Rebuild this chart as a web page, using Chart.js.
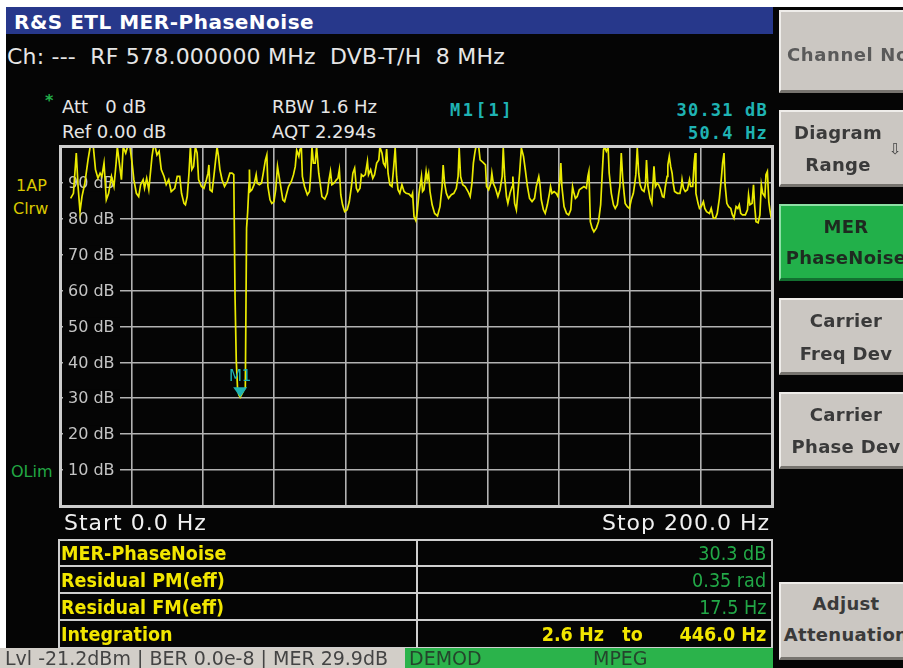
<!DOCTYPE html>
<html>
<head>
<meta charset="utf-8">
<script src="https://cdn.jsdelivr.net/npm/chart.js@4.4.0/dist/chart.umd.min.js"></script>
<style>
body { margin: 0; width: 903px; height: 668px; overflow: hidden; background: #fff; position: relative; font-family: "DejaVu Sans", sans-serif; }
#screen { position: absolute; left: 6px; top: 7px; width: 897px; height: 661px; background: #050505; }
#titlebar { position: absolute; left: 6px; top: 7px; width: 767px; height: 27px; background: #27388b; }
.t { position: absolute; white-space: pre; line-height: 1; }
.btn { position: absolute; left: 779px; width: 134px; box-sizing: border-box; background: #cbc7c2;
       border-top: 2px solid #efedea; border-left: 2px solid #efedea; border-bottom: 3px solid #77746f; border-right: 3px solid #77746f; }
.bt { position: absolute; left: 779px; width: 134px; text-align: center; font-weight: bold; font-size: 18px; letter-spacing: 0.3px; color: #3a3a3a; line-height: 1; white-space: pre; }
.lbl { font-weight: bold; font-size: 20px; color: #f2e600; transform: scaleX(0.88); transform-origin: left center; }
.val { font-size: 20px; color: #22a847; transform: scaleX(0.88); transform-origin: right center; }
.hl { position: absolute; height: 2px; background: #cfcfcf; }
#chartBox { position: absolute; left: 55px; top: 140px; width: 725px; height: 372px; }
</style>
</head>
<body>
<div id="screen"></div>
<div id="titlebar"></div>
<div class="t" style="left:14px;top:12px;font-size:20px;font-weight:bold;letter-spacing:0.5px;color:#fff;">R&amp;S ETL MER-PhaseNoise</div>
<div class="t" style="left:7px;top:46px;font-size:22px;letter-spacing:0.2px;color:#e6e6e6;">Ch: ---  RF 578.000000 MHz  DVB-T/H  8 MHz</div>

<div class="t" style="left:45px;top:93px;font-size:16px;font-weight:bold;color:#22b04a;">*</div>
<div class="t" style="left:62px;top:98px;font-size:18px;color:#e6e6e6;">Att   0 dB</div>
<div class="t" style="left:62px;top:123px;font-size:18px;color:#e6e6e6;">Ref 0.00 dB</div>
<div class="t" style="left:272px;top:98px;font-size:18px;color:#e6e6e6;">RBW 1.6 Hz</div>
<div class="t" style="left:272px;top:123px;font-size:18px;color:#e6e6e6;">AQT 2.294s</div>
<div class="t" style="left:450px;top:102px;font-size:17px;font-weight:bold;font-family:'DejaVu Sans Mono',monospace;letter-spacing:2.6px;color:#1fb3b3;">M1[1]</div>
<div class="t" style="right:135px;top:102px;font-size:17px;font-weight:bold;font-family:'DejaVu Sans Mono',monospace;letter-spacing:1.2px;color:#1fb3b3;">30.31 dB</div>
<div class="t" style="right:135px;top:125px;font-size:17px;font-weight:bold;font-family:'DejaVu Sans Mono',monospace;letter-spacing:1.2px;color:#1fb3b3;">50.4 Hz</div>

<div class="t" style="left:16px;top:178px;font-size:16px;color:#d9c800;">1AP</div>
<div class="t" style="left:13px;top:201px;font-size:16px;color:#d9c800;">Clrw</div>
<div class="t" style="left:11px;top:464px;font-size:16px;color:#22a844;">OLim</div>

<div id="chartBox"><canvas id="phaseChart" width="725" height="372"></canvas></div>

<div class="t" style="left:64px;top:512px;font-size:22px;letter-spacing:1px;color:#f0f0f0;">Start 0.0 Hz</div>
<div class="t" style="right:133px;top:512px;font-size:22px;letter-spacing:1px;color:#f0f0f0;">Stop 200.0 Hz</div>

<div style="position:absolute;left:58px;top:539px;width:715px;height:110px;box-sizing:border-box;border:2px solid #cfcfcf;"></div>
<div class="hl" style="left:58px;top:565px;width:715px;"></div>
<div class="hl" style="left:58px;top:592px;width:715px;"></div>
<div class="hl" style="left:58px;top:619px;width:715px;"></div>
<div style="position:absolute;left:416px;top:539px;width:2px;height:110px;background:#cfcfcf;"></div>

<div class="t lbl" style="left:61px;top:543px;">MER-PhaseNoise</div>
<div class="t lbl" style="left:61px;top:570px;">Residual PM(eff)</div>
<div class="t lbl" style="left:61px;top:597px;">Residual FM(eff)</div>
<div class="t lbl" style="left:61px;top:624px;">Integration</div>
<div class="t val" style="right:137px;top:543px;">30.3 dB</div>
<div class="t val" style="right:137px;top:570px;">0.35 rad</div>
<div class="t val" style="right:137px;top:597px;">17.5 Hz</div>
<div class="t val" style="right:137px;top:624px;color:#f2e600;font-weight:bold;">2.6 Hz   to      446.0 Hz</div>

<div style="position:absolute;left:0;top:648px;width:405px;height:20px;background:#d2cec8;"></div>
<div style="position:absolute;left:405px;top:648px;width:368px;height:20px;background:#2bb34b;"></div>
<div class="t" style="left:5px;top:649px;font-size:19px;color:#444;">Lvl -21.2dBm | BER 0.0e-8 | MER 29.9dB</div>
<div class="t" style="left:409px;top:649px;font-size:19px;color:#24452c;">DEMOD</div>
<div class="t" style="left:593px;top:649px;font-size:19px;color:#24452c;">MPEG</div>

<div class="btn" style="top:10px;height:83px;"></div>
<div class="t" style="left:787px;top:46px;font-size:18px;font-weight:bold;letter-spacing:0.6px;color:#5a5a5a;">Channel No</div>
<div class="btn" style="top:110px;height:77px;"></div>
<div class="bt" style="top:124px;margin-left:-8px;">Diagram</div>
<div class="bt" style="top:156px;margin-left:-8px;">Range</div>
<div class="t" style="left:889px;top:142px;font-size:15px;color:#444;">⇩</div>
<div class="btn" style="top:204px;height:77px;background:#22b04a;border-top-color:#8fe0a6;border-left-color:#8fe0a6;border-bottom-color:#127030;border-right-color:#127030;"></div>
<div class="bt" style="top:218px;color:#1e2a20;">MER</div>
<div class="bt" style="top:249px;color:#1e2a20;">PhaseNoise</div>
<div class="btn" style="top:298px;height:77px;"></div>
<div class="bt" style="top:312px;">Carrier</div>
<div class="bt" style="top:345px;">Freq Dev</div>
<div class="btn" style="top:392px;height:77px;"></div>
<div class="bt" style="top:406px;">Carrier</div>
<div class="bt" style="top:438px;">Phase Dev</div>
<div class="btn" style="top:582px;height:78px;"></div>
<div class="bt" style="top:595px;">Adjust</div>
<div class="bt" style="top:626px;">Attenuation</div>

<script>
// trace (Hz, dB); values at 100 are clipped at the top of the screen
const freqHz = [
  2.7, 3.5, 4.3, 4.8, 5.35, 5.9, 6.7, 7.6, 8.2, 9.1, 9.7, 10.4, 11.0, 11.5, 12.1, 12.75, 13.4, 14.2, 14.9, 15.5,
  15.85, 16.3, 17.0, 17.5, 18.2, 18.7, 19.4, 20.0, 20.5, 21.2, 21.85, 22.4, 23.1, 23.5, 24.1, 24.7, 25.6, 26.0, 26.5, 27.0,
  27.6, 28.2, 29.0, 29.6, 30.3, 31.0, 32.0, 32.7, 33.4, 33.9, 34.6, 35.0, 35.5, 36.0, 36.4, 36.8, 37.3, 37.8, 38.3, 38.7,
  39.5, 40.2, 40.9, 41.35, 41.6, 41.9, 42.5, 43.0, 43.5, 43.9, 44.3, 44.7, 45.3, 46.0, 46.8, 47.5, 48.1, 48.6, 48.95, 49.3,
  49.65, 50.0, 50.4, 50.8, 51.3, 51.85, 52.2, 52.5, 52.9, 53.0, 53.2, 53.7, 54.3, 54.9, 55.2, 55.8, 56.4, 56.9, 57.5, 57.9,
  58.2, 58.8, 59.3, 59.9, 60.4, 60.9, 61.2, 61.8, 62.4, 62.9, 63.5, 64.0, 64.8, 65.4, 65.9, 66.3, 66.9, 67.2, 67.6, 67.9,
  68.5, 69.3, 69.9, 70.2, 70.6, 71.0, 71.5, 71.9, 72.5, 72.9, 73.4, 74.2, 74.9, 75.4, 75.8, 76.2, 76.8, 77.5, 77.9, 78.3,
  78.7, 79.2, 79.8, 80.5, 81.1, 81.7, 82.1, 82.6, 83.1, 83.5, 84.1, 84.5, 85.0, 85.6, 86.2, 86.5, 87.1, 87.7, 88.2, 88.8,
  89.4, 89.7, 90.3, 90.7, 91.2, 91.6, 92.0, 92.5, 93.1, 93.6, 94.0, 94.4, 94.8, 95.3, 95.9, 96.5, 97.1, 97.9, 98.6, 98.9,
  99.3, 99.8, 100.2, 100.7, 101.4, 101.7, 102.1, 102.7, 103.0, 103.4, 103.8, 104.4, 105.1, 105.9, 106.6, 107.2, 107.5, 107.9, 108.4, 109.0,
  109.8, 110.5, 111.2, 111.7, 112.0, 112.4, 113.0, 113.7, 114.5, 115.1, 115.6, 116.0, 116.4, 116.7, 117.5, 117.9, 118.7, 119.4, 119.7, 120.3,
  120.9, 121.2, 121.6, 122.2, 122.9, 123.5, 124.1, 124.4, 124.8, 125.3, 125.7, 126.3, 126.9, 127.1, 127.6, 128.1, 128.5, 129.0, 129.5, 130.1,
  130.6, 131.2, 131.8, 132.5, 133.2, 133.7, 134.4, 134.7, 135.1, 135.7, 136.2, 136.8, 137.4, 137.7, 138.1, 138.7, 139.3, 139.8, 140.3, 140.6,
  140.9, 141.5, 142.2, 142.8, 143.4, 143.9, 144.3, 144.7, 145.2, 145.8, 146.4, 147.1, 147.8, 148.2, 148.5, 148.9, 149.4, 149.9, 150.6, 151.2,
  151.8, 152.2, 152.6, 152.9, 153.4, 153.9, 154.2, 154.8, 155.4, 155.9, 156.5, 156.9, 157.2, 157.6, 158.0, 158.4, 158.7, 159.3, 159.9, 160.4,
  161.0, 161.4, 161.7, 162.1, 162.5, 162.9, 163.4, 164.0, 164.4, 164.7, 165.1, 165.7, 166.2, 166.8, 167.2, 167.7, 168.1, 168.7, 169.2, 169.6,
  170.0, 170.5, 170.7, 171.1, 171.5, 171.9, 172.2, 172.6, 173.4, 174.1, 174.5, 174.7, 175.1, 175.6, 176.2, 176.8, 177.1, 177.7, 178.1, 178.4,
  178.6, 179.2, 179.6, 180.1, 180.7, 181.1, 181.6, 182.4, 182.9, 183.5, 184.1, 184.6, 185.2, 185.8, 186.1, 186.5, 186.8, 187.3, 187.8, 188.4,
  188.8, 189.3, 189.9, 190.4, 190.8, 191.2, 191.7, 192.5, 193.1, 193.4, 193.8, 194.4, 194.8, 195.1, 195.5, 196.1, 196.6, 197.0, 197.4, 198.0,
  198.3, 198.7, 199.1, 199.4, 199.8
];
const levelDb = [
  85.7, 87.1, 98.3, 89.0, 82.0, 86.2, 89.9, 96.4, 100, 100, 93.7, 91.3, 92.7, 91.8, 95.5, 85.3, 87.1, 91.8, 89.0, 95.5,
  100, 96.4, 90.9, 100, 98.3, 100, 100, 95.5, 90.9, 87.1, 86.2, 89.5, 90.9, 88.5, 91.3, 88.1, 97.4, 100, 100, 97.8,
  98.8, 93.7, 91.8, 89.5, 90.9, 87.6, 88.5, 91.8, 91.8, 87.1, 84.3, 83.9, 86.2, 92.7, 100, 93.7, 94.6, 100, 98.3, 90.9,
  89.0, 88.5, 90.9, 92.7, 95.0, 88.1, 87.6, 91.8, 96.4, 100, 97.4, 93.7, 90.9, 89.0, 90.4, 92.7, 92.7, 92.3, 58.7, 40.5,
  33.0, 31.0, 30.3, 31.0, 32.0, 33.0, 77.4, 81.8, 90.0, 93.7, 87.6, 88.1, 89.5, 92.3, 89.9, 89.5, 89.9, 92.7, 96.4, 97.8,
  89.0, 85.3, 84.3, 84.8, 88.1, 94.6, 92.7, 89.0, 85.3, 84.8, 87.1, 89.0, 90.4, 92.3, 94.6, 99.1, 97.4, 99.2, 100, 91.8,
  89.0, 86.7, 87.6, 91.8, 100, 95.5, 95.5, 100, 92.7, 89.9, 86.2, 85.5, 87.1, 90.9, 93.2, 89.5, 89.9, 90.9, 91.3, 93.7,
  86.7, 83.9, 82.0, 82.5, 84.8, 89.0, 92.7, 94.1, 88.5, 87.6, 88.5, 92.3, 91.8, 92.3, 96.0, 92.3, 93.7, 91.3, 92.3, 95.5,
  96.4, 100, 98.3, 95.5, 94.6, 99.4, 92.7, 89.5, 89.0, 94.6, 99.7, 91.8, 88.1, 87.1, 89.5, 87.6, 87.1, 86.9, 86.2, 87.1,
  80.6, 79.5, 82.0, 87.1, 91.8, 87.6, 88.1, 93.2, 90.9, 92.7, 87.6, 83.9, 81.5, 80.8, 83.4, 89.0, 95.0, 89.9, 87.1, 85.7,
  86.7, 87.1, 88.5, 91.8, 99.7, 91.8, 89.5, 89.0, 87.6, 86.2, 89.9, 95.5, 98.3, 100, 100, 96.4, 95.7, 95.0, 89.0, 88.1,
  89.9, 92.7, 89.9, 88.5, 86.2, 88.1, 91.8, 99.7, 91.8, 86.2, 84.3, 87.1, 89.0, 91.8, 84.3, 82.5, 87.1, 92.7, 99.7, 97.4,
  93.7, 89.0, 85.7, 84.8, 85.7, 89.0, 91.8, 89.9, 85.3, 82.5, 81.5, 83.9, 87.1, 89.0, 87.1, 87.6, 87.1, 86.2, 90.4, 95.5,
  89.0, 83.4, 81.5, 81.1, 82.5, 89.0, 87.1, 85.7, 86.2, 88.1, 88.5, 89.0, 88.5, 91.8, 93.2, 79.2, 77.4, 76.4, 77.4, 79.2,
  83.9, 91.8, 99.2, 100, 98.8, 100, 92.7, 87.1, 83.9, 82.9, 83.9, 87.1, 89.0, 98.3, 91.3, 87.1, 84.3, 83.4, 82.9, 85.3,
  87.1, 89.9, 92.3, 99.7, 92.7, 89.5, 88.1, 87.6, 89.5, 96.4, 89.0, 85.7, 84.3, 94.6, 89.0, 89.9, 89.5, 88.1, 86.2, 86.0,
  89.0, 91.8, 95.0, 97.4, 94.6, 92.7, 89.9, 87.6, 87.1, 87.1, 89.0, 90.9, 88.5, 87.6, 88.1, 90.9, 89.0, 89.0, 95.5, 98.3,
  87.1, 84.3, 82.9, 83.4, 84.8, 82.9, 82.0, 81.5, 82.9, 80.2, 80.2, 81.5, 85.7, 91.8, 95.5, 98.3, 89.5, 84.3, 83.4, 82.9,
  81.3, 80.2, 83.4, 82.9, 83.9, 81.5, 81.1, 81.1, 82.5, 86.7, 83.9, 84.3, 89.5, 83.9, 79.2, 78.9, 81.1, 89.5, 87.1, 86.2,
  92.3, 93.2, 84.8, 82.5, 80.2
];
const yTickDb = [10, 20, 30, 40, 50, 60, 70, 80, 90];
const yTickLabels = ["10 dB", "20 dB", "30 dB", "40 dB", "50 dB", "60 dB", "70 dB", "80 dB", "90 dB"];
const markerHz = 50.4;
const markerDb = 30.31;

let points = freqHz.map((f, i) => ({ x: f, y: levelDb[i] }));

// level labels sit inside the diagram on a black patch
const levelLabels = {
    id: "levelLabels",
    beforeDatasetsDraw(chart) {
        let ctx = chart.ctx;
        let area = chart.chartArea;
        let y = chart.scales.y;
        ctx.save();
        ctx.font = '16px "DejaVu Sans"';
        ctx.textBaseline = "middle";
        yTickDb.forEach((v, i) => {
            let py = y.getPixelForValue(v);
            ctx.fillStyle = "#050505";
            ctx.fillRect(area.left + 2, py - 9, 57, 18);
            ctx.fillStyle = "#c4c4c4";
            ctx.fillText(yTickLabels[i], area.left + 7, py + 1);
        });
        ctx.restore();
    }
};

const markerM1 = {
    id: "markerM1",
    afterDatasetsDraw(chart) {
        let ctx = chart.ctx;
        let px = chart.scales.x.getPixelForValue(markerHz);
        let py = chart.scales.y.getPixelForValue(markerDb);
        ctx.save();
        ctx.fillStyle = "#1fb3b3";
        ctx.beginPath();
        ctx.moveTo(px - 7, py - 10);
        ctx.lineTo(px + 7, py - 10);
        ctx.lineTo(px, py);
        ctx.closePath();
        ctx.fill();
        ctx.font = '15px "DejaVu Sans"';
        ctx.textAlign = "center";
        ctx.textBaseline = "middle";
        ctx.fillText("M1", px, py - 20);
        ctx.restore();
    }
};

const frame = {
    id: "frame",
    afterDraw(chart) {
        let a = chart.chartArea;
        let ctx = chart.ctx;
        ctx.save();
        ctx.strokeStyle = "#cdcdcd";
        ctx.lineWidth = 3;
        ctx.strokeRect(a.left - 0.5, a.top - 0.5, a.right - a.left + 1, a.bottom - a.top + 1);
        ctx.restore();
    }
};

let ctx = document.getElementById("phaseChart").getContext("2d");
new Chart(ctx, {
    type: "line",
    data: {
        datasets: [{
            data: points,
            borderColor: "#eaea00",
            borderWidth: 1.7,
            pointRadius: 0,
            tension: 0,
            fill: false
        }]
    },
    options: {
        responsive: false,
        animation: false,
        layout: { padding: { left: 6, right: 8, top: 7, bottom: 6 } },
        plugins: { legend: { display: false }, tooltip: { enabled: false } },
        scales: {
            x: {
                type: "linear", min: 0, max: 200,
                ticks: { display: false, stepSize: 20 },
                grid: { color: "#b2b2b2", lineWidth: 1.6, drawTicks: false },
                border: { display: false }
            },
            y: {
                min: 0, max: 100,
                ticks: { display: false, stepSize: 10 },
                grid: { color: "#b2b2b2", lineWidth: 1.6, drawTicks: false },
                border: { display: false }
            }
        }
    },
    plugins: [levelLabels, markerM1, frame]
});
</script>
</body>
</html>
